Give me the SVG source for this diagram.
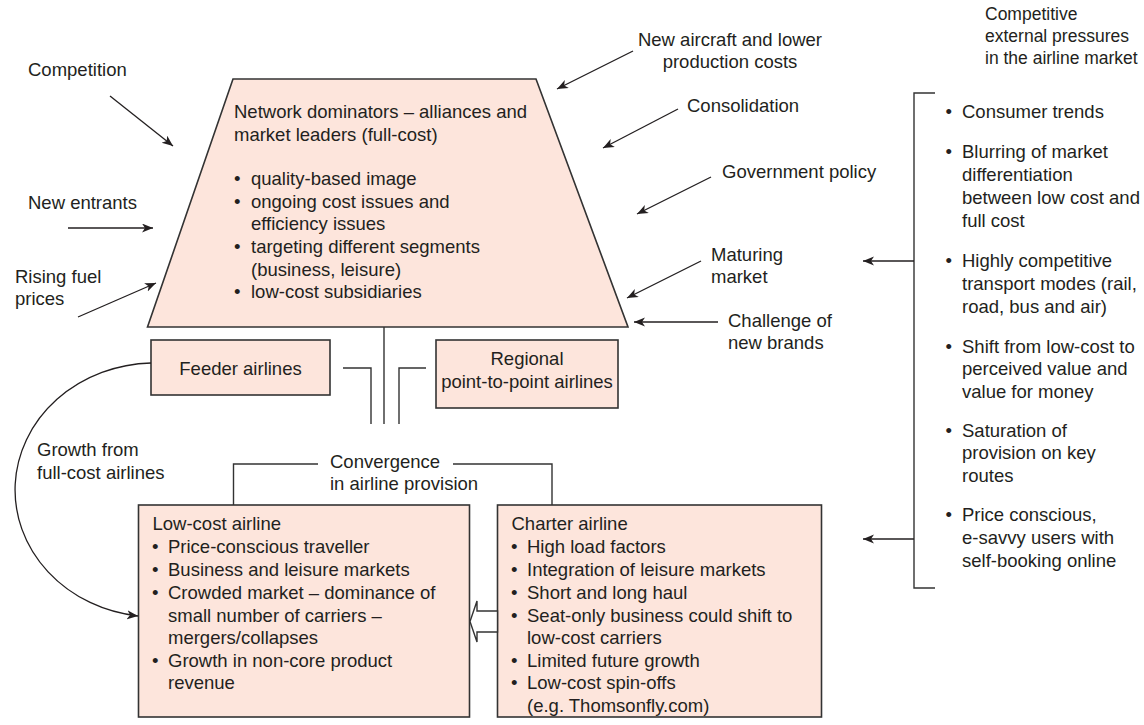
<svg xmlns="http://www.w3.org/2000/svg" width="1144" height="725" viewBox="0 0 1144 725">
  <defs>
    <marker id="arr" markerUnits="userSpaceOnUse" markerWidth="12" markerHeight="10" refX="11" refY="4.5" orient="auto">
      <path d="M0,0 L11,4.5 L0,9 L3,4.5 z" fill="#231f20"/>
    </marker>
    <style>
      text { font-family: "Liberation Sans", Arial, Helvetica, sans-serif; font-size: 18.5px; fill: #231f20; }
      .title { font-size: 17.5px; }
      .box { fill: #fde5dc; stroke: #333; stroke-width: 1.6; }
      .ln { fill: none; stroke: #333; stroke-width: 1.4; }
      .ar { fill: none; stroke: #231f20; stroke-width: 1.3; marker-end: url(#arr); }
      .mid { text-anchor: middle; }
    </style>
  </defs>
  <rect width="1144" height="725" fill="#fff"/>

  <!-- Network dominators (trapezoid) -->
  <g id="network-dominators">
    <polygon class="box" points="233,79 536,79 628,327 147.5,327"/>
    <text x="234" y="118">Network dominators – alliances and</text>
    <text x="234" y="141">market leaders (full-cost)</text>
    <text x="234" y="185">•</text><text x="251" y="185">quality-based image</text>
    <text x="234" y="208">•</text><text x="251" y="208">ongoing cost issues and</text>
    <text x="251" y="230">efficiency issues</text>
    <text x="234" y="253">•</text><text x="251" y="253">targeting different segments</text>
    <text x="251" y="276">(business, leisure)</text>
    <text x="234" y="298">•</text><text x="251" y="298">low-cost subsidiaries</text>
  </g>

  <!-- Feeder airlines -->
  <g id="feeder-airlines">
    <rect class="box" x="151" y="340" width="179" height="55"/>
    <text class="mid" x="240.5" y="375">Feeder airlines</text>
  </g>

  <!-- Regional point-to-point airlines -->
  <g id="regional-airlines">
    <rect class="box" x="436" y="340" width="182" height="68"/>
    <text class="mid" x="527" y="365">Regional</text>
    <text class="mid" x="527" y="388">point-to-point airlines</text>
  </g>

  <!-- Low-cost airline -->
  <g id="low-cost-airline">
    <rect class="box" x="138.5" y="505" width="331" height="212"/>
    <text x="152.5" y="530">Low-cost airline</text>
    <text x="152" y="553">•</text><text x="168" y="553">Price-conscious traveller</text>
    <text x="152" y="576">•</text><text x="168" y="576">Business and leisure markets</text>
    <text x="152" y="599">•</text><text x="168" y="599">Crowded market – dominance of</text>
    <text x="168" y="622">small number of carriers –</text>
    <text x="168" y="644">mergers/collapses</text>
    <text x="152" y="667">•</text><text x="168" y="667">Growth in non-core product</text>
    <text x="168" y="689">revenue</text>
  </g>

  <!-- Charter airline -->
  <g id="charter-airline">
    <rect class="box" x="497.5" y="505" width="324" height="212"/>
    <text x="511.5" y="530">Charter airline</text>
    <text x="511" y="553">•</text><text x="527" y="553">High load factors</text>
    <text x="511" y="576">•</text><text x="527" y="576">Integration of leisure markets</text>
    <text x="511" y="599">•</text><text x="527" y="599">Short and long haul</text>
    <text x="511" y="622">•</text><text x="527" y="622">Seat-only business could shift to</text>
    <text x="527" y="644">low-cost carriers</text>
    <text x="511" y="667">•</text><text x="527" y="667">Limited future growth</text>
    <text x="511" y="689">•</text><text x="527" y="689">Low-cost spin-offs</text>
    <text x="527" y="712">(e.g. Thomsonfly.com)</text>
  </g>

  <!-- External pressures list -->
  <g id="external-pressures">
    <text class="title" x="985" y="20">Competitive</text>
    <text class="title" x="985" y="42">external pressures</text>
    <text class="title" x="985" y="64">in the airline market</text>
    <text x="945.5" y="118">•</text><text x="962" y="118">Consumer trends</text>
    <text x="945.5" y="158">•</text><text x="962" y="158">Blurring of market</text>
    <text x="962" y="181">differentiation</text>
    <text x="962" y="204">between low cost and</text>
    <text x="962" y="227">full cost</text>
    <text x="945.5" y="267">•</text><text x="962" y="267">Highly competitive</text>
    <text x="962" y="290">transport modes (rail,</text>
    <text x="962" y="313">road, bus and air)</text>
    <text x="945.5" y="353">•</text><text x="962" y="353">Shift from low-cost to</text>
    <text x="962" y="375">perceived value and</text>
    <text x="962" y="398">value for money</text>
    <text x="945.5" y="437">•</text><text x="962" y="437">Saturation of</text>
    <text x="962" y="459">provision on key</text>
    <text x="962" y="482">routes</text>
    <text x="945.5" y="521">•</text><text x="962" y="521">Price conscious,</text>
    <text x="962" y="544">e-savvy users with</text>
    <text x="962" y="567">self-booking online</text>
  </g>

  <!-- Influence labels -->
  <g id="labels">
    <text x="28" y="76">Competition</text>
    <text x="28" y="209">New entrants</text>
    <text x="15" y="283">Rising fuel</text>
    <text x="15" y="305">prices</text>
    <text class="mid" x="730" y="46">New aircraft and lower</text>
    <text class="mid" x="730" y="68">production costs</text>
    <text x="687" y="112">Consolidation</text>
    <text x="722" y="178">Government policy</text>
    <text x="711" y="261">Maturing</text>
    <text x="711" y="283">market</text>
    <text x="728" y="327">Challenge of</text>
    <text x="728" y="349">new brands</text>
    <text x="37" y="456">Growth from</text>
    <text x="37" y="479">full-cost airlines</text>
    <text x="330" y="468">Convergence</text>
    <text x="330" y="490">in airline provision</text>
  </g>

  <!-- Connectors -->
  <g id="connectors">
    <line class="ar" x1="110" y1="96" x2="173" y2="146"/>
    <line class="ar" x1="68" y1="228" x2="153" y2="228"/>
    <line class="ar" x1="78" y1="317" x2="156" y2="283"/>
    <line class="ar" x1="633" y1="51" x2="557" y2="89"/>
    <line class="ar" x1="678" y1="109" x2="603" y2="148"/>
    <line class="ar" x1="711" y1="177" x2="637" y2="214"/>
    <line class="ar" x1="701" y1="261" x2="627" y2="298"/>
    <line class="ar" x1="718" y1="322" x2="634" y2="322"/>

    <!-- links from the network dominators down to convergence -->
    <line class="ln" x1="384" y1="327" x2="384" y2="424"/>
    <polyline class="ln" points="343,368 371,368 371,424"/>
    <polyline class="ln" points="426,368 399,368 399,424"/>

    <!-- convergence bracket -->
    <polyline class="ln" points="318,464 233.5,464 233.5,505"/>
    <polyline class="ln" points="453,464 552,464 552,505"/>

    <!-- growth from full-cost airlines -->
    <path class="ar" d="M151,363 A140,127 0 0 0 138,616"/>

    <!-- charter to low-cost block arrow -->
    <polygon points="497.5,611 477,611 477,601 470,621.5 477,642 477,632 497.5,632" fill="#fff" stroke="#333" stroke-width="1.4"/>

    <!-- external pressures bracket -->
    <polyline class="ln" points="935,93 914,93 914,588 935,588"/>
    <line class="ar" x1="914" y1="261" x2="863" y2="261"/>
    <line class="ar" x1="914" y1="539" x2="863" y2="539"/>
  </g>
</svg>
